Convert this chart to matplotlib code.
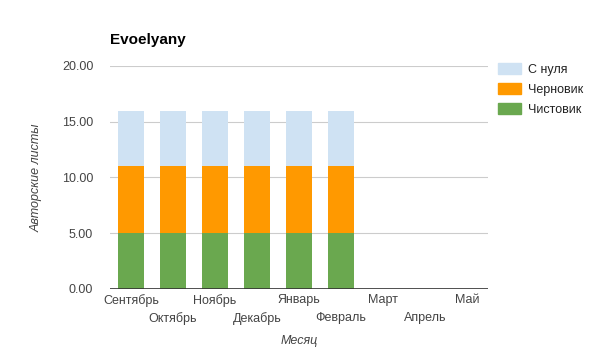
import matplotlib
matplotlib.use("Agg")
import matplotlib.pyplot as plt
from matplotlib.patches import Patch

months = ["Сентябрь", "Октябрь", "Ноябрь", "Декабрь", "Январь",
          "Февраль", "Март", "Апрель", "Май"]
chistovik = [5, 5, 5, 5, 5, 5, 0, 0, 0]
chernovik = [6, 6, 6, 6, 6, 6, 0, 0, 0]
s_nulya = [5, 5, 5, 5, 5, 5, 0, 0, 0]
yticks = [0, 5, 10, 15, 20]

plt.rcParams["font.family"] = ["Liberation Sans", "DejaVu Sans"]

c_green = "#6aa84f"
c_orange = "#ff9900"
c_blue = "#cfe2f3"

fig = plt.figure(figsize=(5.91, 3.51), dpi=100)
ax = fig.add_axes([0.186, 0.177, 0.640, 0.635])

x = list(range(len(months)))
w = 0.62
bottom2 = chistovik
bottom3 = [a + b for a, b in zip(chistovik, chernovik)]
ax.bar(x, chistovik, w, color=c_green, zorder=2)
ax.bar(x, chernovik, w, bottom=bottom2, color=c_orange, zorder=2)
ax.bar(x, s_nulya, w, bottom=bottom3, color=c_blue, zorder=2)

ax.set_xlim(-0.5, len(months) - 0.5)
ax.set_ylim(0, 20)
ax.set_yticks(yticks)
ax.set_yticklabels([f"{v:.2f}" for v in yticks])
ax.yaxis.grid(True, color="#cccccc", linewidth=0.8, zorder=0)
ax.axhline(0, color="#333333", linewidth=1.2, zorder=3)

ax.set_xticks(x)
ax.set_xticklabels(months)
ax.tick_params(axis="both", length=0, labelsize=9, colors="#444444")
ax.tick_params(axis="y", pad=12)
# staggered month labels, two rows
for i, t in enumerate(ax.xaxis.get_major_ticks()):
    t.set_pad(4 if i % 2 == 0 else 17)
for s in ax.spines.values():
    s.set_visible(False)

ax.set_ylabel("Авторские листы", fontsize=9, style="italic", color="#444444", labelpad=14)
ax.set_xlabel("Месяц", fontsize=9, style="italic", color="#444444", labelpad=7)

fig.text(0.186, 0.885, "Evoelyany", fontsize=11, fontweight="bold", color="#000000",
         va="center", ha="left")

handles = [Patch(color=c_blue), Patch(color=c_orange), Patch(color=c_green)]
fig.legend(handles, ["С нуля", "Черновик", "Чистовик"], loc="upper left",
           bbox_to_anchor=(0.843, 0.82), frameon=False, fontsize=9,
           borderpad=0, borderaxespad=0,
           handlelength=1.8, handleheight=1.0, handletextpad=0.55,
           labelspacing=0.55, labelcolor="#222222")

plt.savefig("out.png", dpi=100)
